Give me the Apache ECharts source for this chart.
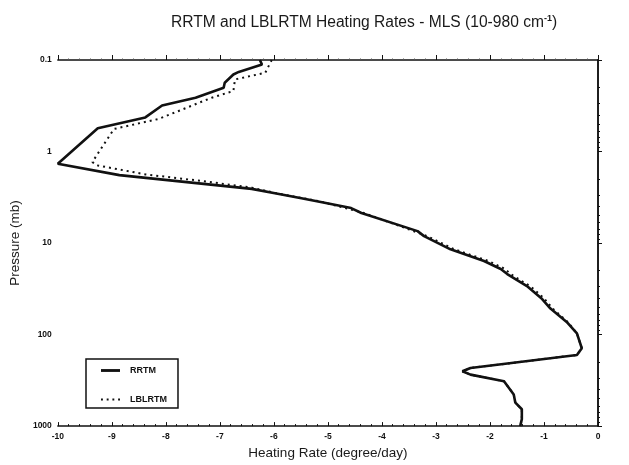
<!DOCTYPE html>
<html>
<head>
<meta charset="utf-8">
<script src="https://cdn.jsdelivr.net/npm/echarts@6/dist/echarts.min.js"></script>
<style>html,body{margin:0;padding:0;background:#fff}#c{width:629px;height:465px}</style>
</head>
<body>
<div id="c"></div>
<script>
var xTicks = [-10, -9, -8, -7, -6, -5, -4, -3, -2, -1, 0];
var yTicks = [0.1, 1, 10, 100, 1000];

var rrtmPressure = [0.1, 0.112, 0.135, 0.144, 0.177, 0.201, 0.258, 0.314, 0.424, 0.557, 1.36, 1.81, 2.56, 2.86, 3.24, 3.51, 4.15, 4.70, 7.41, 8.40, 11.7, 15.7, 19.2, 21.8, 30, 40, 52, 61.5, 72.7, 97.1, 141, 167, 232, 252, 274, 324, 451, 555, 655, 840, 1000];
var rrtmRate = [-6.26, -6.22, -6.65, -6.75, -6.91, -6.93, -7.45, -8.07, -8.38, -9.26, -10.0, -8.86, -6.41, -5.98, -5.49, -5.18, -4.57, -4.38, -3.34, -3.22, -2.73, -2.11, -1.80, -1.68, -1.30, -1.05, -0.88, -0.73, -0.58, -0.39, -0.30, -0.39, -2.36, -2.51, -2.36, -1.74, -1.56, -1.53, -1.41, -1.41, -1.44];

var lblPressure = [0.1, 0.138, 0.163, 0.218, 0.258, 0.44, 0.567, 1.30, 1.41, 1.78, 2.10, 2.48, 2.86, 3.51, 4.70, 8.40, 11.7, 15.7, 19.2, 21.8, 30, 40, 52, 61.5, 72.7, 97.1, 141, 167, 232, 252, 274, 324, 451, 555, 655, 840, 1000];
var lblRate = [-6.04, -6.16, -6.72, -6.75, -7.15, -8.13, -8.96, -9.36, -9.29, -8.37, -7.33, -6.41, -5.95, -5.14, -4.33, -3.16, -2.66, -2.03, -1.72, -1.62, -1.24, -1.00, -0.84, -0.70, -0.56, -0.39, -0.30, -0.39, -2.36, -2.51, -2.36, -1.74, -1.56, -1.53, -1.41, -1.41, -1.44];

function pairs(xs, ps) { return xs.map(function (x, i) { return [x, ps[i]]; }); }

var FONT = '"Liberation Sans", Arial, sans-serif';
var chart = echarts.init(document.getElementById('c'), null, {renderer: 'canvas'});
chart.setOption({
  animation: false,
  backgroundColor: '#fff',
  title: {
    text: '{a|RRTM and LBLRTM Heating Rates - MLS (10-980 cm}{s|-1}{a|)}',
    left: 166, top: 9,
    textStyle: {
      fontWeight: 'normal',
      rich: {
        a: {fontFamily: FONT, fontSize: 15.6, fontWeight: 'normal', color: '#1a1a1a', verticalAlign: 'bottom'},
        s: {fontFamily: FONT, fontSize: 9, fontWeight: 'bold', color: '#1a1a1a', verticalAlign: 'top', padding: [0, 0, 8, 0]}
      }
    }
  },
  legend: {
    orient: 'vertical',
    left: 86, top: 359,
    padding: [7, 11, 4, 15],
    itemGap: 20,
    itemWidth: 19, itemHeight: 10,
    borderColor: '#111', borderWidth: 1.5,
    textStyle: {fontFamily: FONT, fontSize: 9, fontWeight: 'bold', color: '#111', padding: [0, 0, 0, 5]},
    data: [
      {name: 'RRTM', icon: 'path://M0,0H20V3H0Z', itemStyle: {color: '#111'}},
      {name: 'LBLRTM', icon: 'path://M0,0H2V2H0Z M6,0H8V2H6Z M12,0H14V2H12Z M18,0H20V2H18Z', itemStyle: {color: '#111'}}
    ]
  },
  grid: {left: 55, right: 31, top: 60, bottom: 33},
  xAxis: [{
    type: 'value', min: xTicks[0], max: xTicks[xTicks.length - 1], interval: 1,
    position: 'bottom',
    name: 'Heating Rate (degree/day)', nameLocation: 'middle', nameGap: 14,
    nameTextStyle: {fontFamily: FONT, fontSize: 13.5, color: '#1a1a1a'},
    axisLine: {lineStyle: {color: '#111', width: 1.5}},
    axisTick: {inside: true, length: 4, lineStyle: {color: '#111'}},
    minorTick: {show: true, splitNumber: 5, length: 2, lineStyle: {color: '#111'}},
    axisLabel: {fontFamily: FONT, fontSize: 8.5, fontWeight: 'bold', color: '#111', margin: 6},
    splitLine: {show: false}
  }, {
    type: 'value', min: xTicks[0], max: xTicks[xTicks.length - 1], interval: 1,
    position: 'top',
    axisLine: {lineStyle: {color: '#111', width: 1.5}},
    axisTick: {inside: false, length: 5, lineStyle: {color: '#111'}},
    minorTick: {show: true, splitNumber: 5, length: 1.5, lineStyle: {color: '#555'}},
    axisLabel: {show: false},
    splitLine: {show: false}
  }],
  yAxis: [{
    type: 'log', logBase: 10, min: yTicks[0], max: yTicks[yTicks.length - 1], inverse: true,
    position: 'left',
    name: 'Pressure (mb)', nameLocation: 'middle', nameGap: 33, nameRotate: 90,
    nameTextStyle: {fontFamily: FONT, fontSize: 13.5, color: '#1a1a1a'},
    axisLine: {lineStyle: {color: '#111', width: 1.5}},
    axisTick: {inside: true, length: 4, lineStyle: {color: '#111'}},
    minorTick: {show: true, splitNumber: 9, length: 2, lineStyle: {color: '#111'}},
    axisLabel: {fontFamily: FONT, fontSize: 8.5, fontWeight: 'bold', color: '#111', margin: 6,
      formatter: function (v) { return String(v); }},
    splitLine: {show: false}
  }, {
    type: 'log', logBase: 10, min: yTicks[0], max: yTicks[yTicks.length - 1], inverse: true,
    position: 'right',
    axisLine: {lineStyle: {color: '#111', width: 1.5}},
    axisTick: {inside: false, length: 3, lineStyle: {color: '#111'}},
    minorTick: {show: true, splitNumber: 9, length: 2, lineStyle: {color: '#111'}},
    axisLabel: {show: false},
    splitLine: {show: false}
  }],
  series: [{
    name: 'RRTM', type: 'line', xAxisIndex: 0, yAxisIndex: 0,
    symbol: 'none', smooth: false,
    lineStyle: {color: '#111', width: 2.6},
    itemStyle: {color: '#111'},
    data: pairs(rrtmRate, rrtmPressure), z: 3
  }, {
    name: 'LBLRTM', type: 'line', xAxisIndex: 0, yAxisIndex: 0,
    symbol: 'none', smooth: false,
    lineStyle: {color: '#111', width: 2, type: [2, 4]},
    itemStyle: {color: '#111'},
    data: pairs(lblRate, lblPressure), z: 2
  }]
});
</script>
</body>
</html>
